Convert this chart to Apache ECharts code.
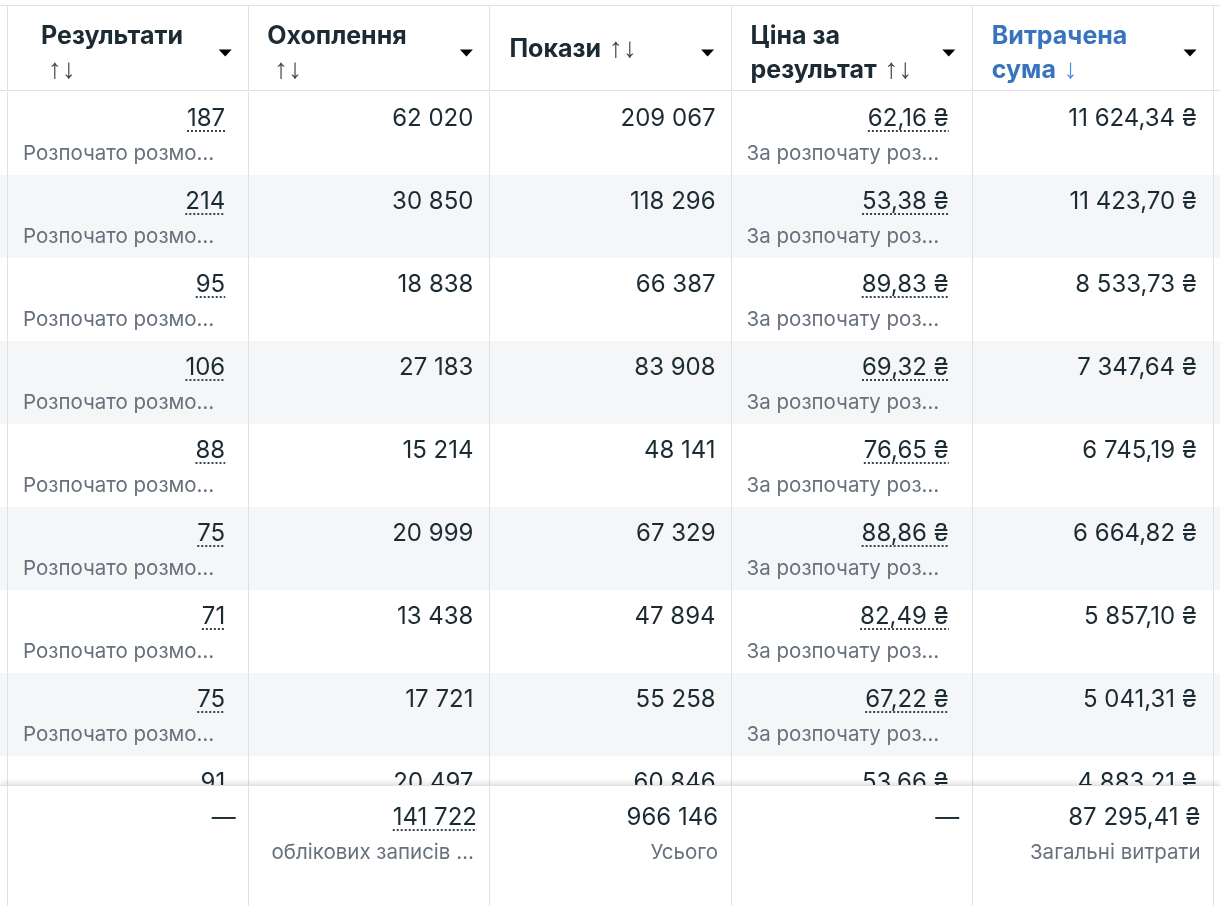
<!DOCTYPE html>
<html><head><meta charset="utf-8">
<script src="https://cdn.jsdelivr.net/npm/echarts@6/dist/echarts.min.js"></script>
<style>html,body{margin:0;padding:0;background:#fff}#c{width:1220px;height:906px}</style>
</head><body><div id="c"></div>
<script>
// ---- data ----
const headerLines = [
  ['Результати', '↑↓'],
  ['Охоплення', '↑↓'],
  ['Покази ↑↓'],
  ['Ціна за', 'результат ↑↓'],
  ['Витрачена', 'сума ↓']
];
const results       = [187, 214, 95, 106, 88, 75, 71, 75, 91];
const reach         = [62020, 30850, 18838, 27183, 15214, 20999, 13438, 17721, 20497];
const impressions   = [209067, 118296, 66387, 83908, 48141, 67329, 47894, 55258, 60846];
const costPerResult = [62.16, 53.38, 89.83, 69.32, 76.65, 88.86, 82.49, 67.22, 53.66];
const amountSpent   = [11624.34, 11423.70, 8533.73, 7347.64, 6745.19, 6664.82, 5857.10, 5041.31, 4883.21];
const resultSubLabel = 'Розпочато розмо…';
const costSubLabel   = 'За розпочату роз…';
const totalReach = 141722;
const totalImpressions = 966146;
const totalSpent = 87295.41;
const footerLabels = ['', 'облікових записів …', 'Усього', '', 'Загальні витрати'];

// ---- formatting ----
const group = s => String(s).replace(/\B(?=(\d{3})+(?!\d))/g, ' ');
const fmtInt = n => group(n);
const fmtMoney = n => { const p = n.toFixed(2).split('.'); return group(p[0]) + ',' + p[1] + ' ₴'; };

const bodyCols = [
  results.map(fmtInt),
  reach.map(fmtInt),
  impressions.map(fmtInt),
  costPerResult.map(fmtMoney),
  amountSpent.map(fmtMoney)
];
const bodySubs = [resultSubLabel, '', '', costSubLabel, ''];
const footerValues = ['—', fmtInt(totalReach), fmtInt(totalImpressions), '—', fmtMoney(totalSpent)];

// ---- style ----
const TEXT = '#1c2b33', SUB = '#67717d', LINE = '#dfe1e5', SHADE = '#f5f6f7';
const BLUE = '#3874be', BLUE_ARROW = '#4a8af2', ARROW = '#444950';
const FONT = 'Inter, "Noto Sans", sans-serif';
const VAL_F = '24px ' + FONT, SUB_F = '20.5px ' + FONT, HEAD_F = 'bold 25px ' + FONT;
const ARR_F = 'bold 28px "Liberation Sans", "DejaVu Sans", sans-serif';
const PAD_R = [23, 16, 15, 23, 16];
const UNDER = [true, false, false, true, false];
const HEAD_PAD_L = [34, 19, 20, 20, 20];
const ctx = document.createElement('canvas').getContext('2d');
function tw(t, f) { ctx.font = f; return ctx.measureText(t).width; }

function vline(x, y1, y2) {
  x = Math.round(x) + 0.5;
  return { type: 'line', shape: { x1: x, y1: y1, x2: x, y2: y2 }, style: { stroke: LINE, lineWidth: 1 } };
}
function dotted(x1, x2, y) {
  return { type: 'line', shape: { x1: x1, y1: y, x2: x2, y2: y },
    style: { stroke: '#3a4450', lineWidth: 2, lineDash: [2, 2] } };
}

function rowBg(params, api) {
  const r = api.value(1);
  if (r % 2 === 0) return null;
  const cs = params.coordSys;
  const y0 = api.coord([0, r])[1], y1 = api.coord([0, r + 1])[1];
  return { type: 'rect', shape: { x: cs.x, y: y0, width: cs.width, height: y1 - y0 }, style: { fill: SHADE } };
}

function bodyCell(params, api) {
  const c = api.value(0), r = api.value(1);
  const p0 = api.coord([c, r]), p1 = api.coord([c + 1, r + 1]);
  const ch = [vline(p0[0], p0[1], p1[1])];
  if (c === 4) ch.push(vline(p1[0], p0[1], p1[1]));
  const txt = bodyCols[c][r];
  const xr = p1[0] - PAD_R[c], yv = p0[1] + 27;
  ch.push({ type: 'text', style: { text: txt, x: xr, y: yv, align: 'right', verticalAlign: 'middle', font: VAL_F, fill: TEXT } });
  if (UNDER[c]) ch.push(dotted(xr - tw(txt, VAL_F), xr, yv + 12));
  if (bodySubs[c]) {
    ch.push({ type: 'text', style: { text: bodySubs[c], x: p0[0] + 16, y: p0[1] + 62, align: 'left', verticalAlign: 'middle', font: SUB_F, fill: SUB } });
  }
  return { type: 'group', children: ch };
}

function headerCell(params, api) {
  const c = api.value(0);
  const p0 = api.coord([c, 0]), p1 = api.coord([c + 1, 1]);
  const cs = params.coordSys;
  const ch = [];
  if (c === 0) {
    ch.push({ type: 'line', shape: { x1: cs.x, y1: Math.round(p0[1]) + 0.5, x2: cs.x + cs.width, y2: Math.round(p0[1]) + 0.5 }, style: { stroke: LINE, lineWidth: 1 } });
    ch.push({ type: 'line', shape: { x1: cs.x, y1: Math.round(p1[1]) - 0.5, x2: cs.x + cs.width, y2: Math.round(p1[1]) - 0.5 }, style: { stroke: LINE, lineWidth: 1 } });
  }
  ch.push(vline(p0[0], p0[1], p1[1]));
  if (c === 4) ch.push(vline(p1[0], p0[1], p1[1]));
  const lines = headerLines[c];
  const col = c === 4 ? BLUE : TEXT;
  const acol = c === 4 ? BLUE_ARROW : ARROW;
  const ys = lines.length === 2 ? [p0[1] + 31, p0[1] + 65] : [p0[1] + 44];
  lines.forEach((ln, i) => {
    const parts = ln.split(' ');
    const rt = parts.map(w => /^[↑↓]+$/.test(w) ? (parts.length === 1 ? '{a0|' + w + '}' : '{a|' + w + '}') : '{t|' + w + '}').join(' ');
    ch.push({ type: 'text', style: {
      text: rt, x: p0[0] + HEAD_PAD_L[c], y: ys[i], align: 'left', verticalAlign: 'middle',
      font: HEAD_F, fill: col,
      rich: {
        t: { font: HEAD_F, fill: col },
        a: { font: ARR_F, fill: acol, padding: [0, 0, 0, 2] },
        a0: { font: ARR_F, fill: acol, padding: [0, 0, 0, 7] }
      }
    } });
  });
  const cx = p1[0] - 23, cy = p0[1] + 48;
  ch.push({ type: 'polygon', shape: { points: [[cx - 6.5, cy - 3.5], [cx + 6.5, cy - 3.5], [cx, cy + 3.5]] }, style: { fill: '#000' } });
  return { type: 'group', children: ch };
}

function footerCell(params, api) {
  const c = api.value(0);
  const p0 = api.coord([c, 0]), p1 = api.coord([c + 1, 1]);
  const cs = params.coordSys;
  const ch = [];
  if (c === 0) {
    ch.push({ type: 'rect', shape: { x: cs.x, y: p0[1], width: cs.width, height: p1[1] - p0[1] },
      style: { fill: '#fff', shadowBlur: 6, shadowColor: 'rgba(0,0,0,0.13)', shadowOffsetY: -2 } });
    ch.push({ type: 'line', shape: { x1: cs.x, y1: Math.round(p0[1]) + 0.5, x2: cs.x + cs.width, y2: Math.round(p0[1]) + 0.5 }, style: { stroke: LINE, lineWidth: 1 } });
  }
  ch.push(vline(p0[0], p0[1], p1[1]));
  if (c === 4) ch.push(vline(p1[0], p0[1], p1[1]));
  const txt = footerValues[c];
  const xr = p1[0] - 12.5, yv = p0[1] + 33;
  ch.push({ type: 'text', style: { text: txt, x: xr, y: yv, align: 'right', verticalAlign: 'middle', font: VAL_F, fill: TEXT } });
  if (c === 1) ch.push(dotted(xr - tw(txt, VAL_F), xr, yv + 12));
  if (footerLabels[c]) {
    ch.push({ type: 'text', style: { text: footerLabels[c], x: xr - (c === 1 ? 3 : 0), y: p0[1] + 68, align: 'right', verticalAlign: 'middle', font: SUB_F, fill: SUB } });
  }
  return { type: 'group', children: ch };
}

// ---- chart ----
const COLW = 241.2, LEFT0 = 7;
const X_MIN = -LEFT0 / COLW, X_MAX = (1220 - LEFT0) / COLW;
const nRows = results.length;
const bodyData = [];
for (let r = 0; r < nRows; r++) for (let c = 0; c < 5; c++) bodyData.push([c, r]);
const rowData = results.map((_, r) => [0, r]);
const colData = headerLines.map((_, c) => [c, 0]);

const xAx = g => ({ type: 'value', gridIndex: g, min: X_MIN, max: X_MAX, show: false });
const yAx = (g, max) => ({ type: 'value', gridIndex: g, min: 0, max: max, inverse: true, show: false });

const chart = echarts.init(document.getElementById('c'), null, { renderer: 'canvas' });
chart.setOption({
  animation: false,
  backgroundColor: '#fff',
  grid: [
    { left: 0, right: 0, top: 5, height: 86 },
    { left: 0, right: 0, top: 92, height: 83 * nRows },
    { left: 0, right: 0, top: 785, height: 121 }
  ],
  xAxis: [xAx(0), xAx(1), xAx(2)],
  yAxis: [yAx(0, 1), yAx(1, nRows), yAx(2, 1)],
  series: [
    { type: 'custom', xAxisIndex: 1, yAxisIndex: 1, z: 2, renderItem: rowBg, data: rowData, silent: true },
    { type: 'custom', xAxisIndex: 1, yAxisIndex: 1, z: 3, renderItem: bodyCell, data: bodyData, silent: true },
    { type: 'custom', xAxisIndex: 0, yAxisIndex: 0, z: 4, renderItem: headerCell, data: colData, silent: true },
    { type: 'custom', xAxisIndex: 2, yAxisIndex: 2, z: 5, renderItem: footerCell, data: colData, silent: true, clip: false }
  ]
});
</script>
</body></html>
